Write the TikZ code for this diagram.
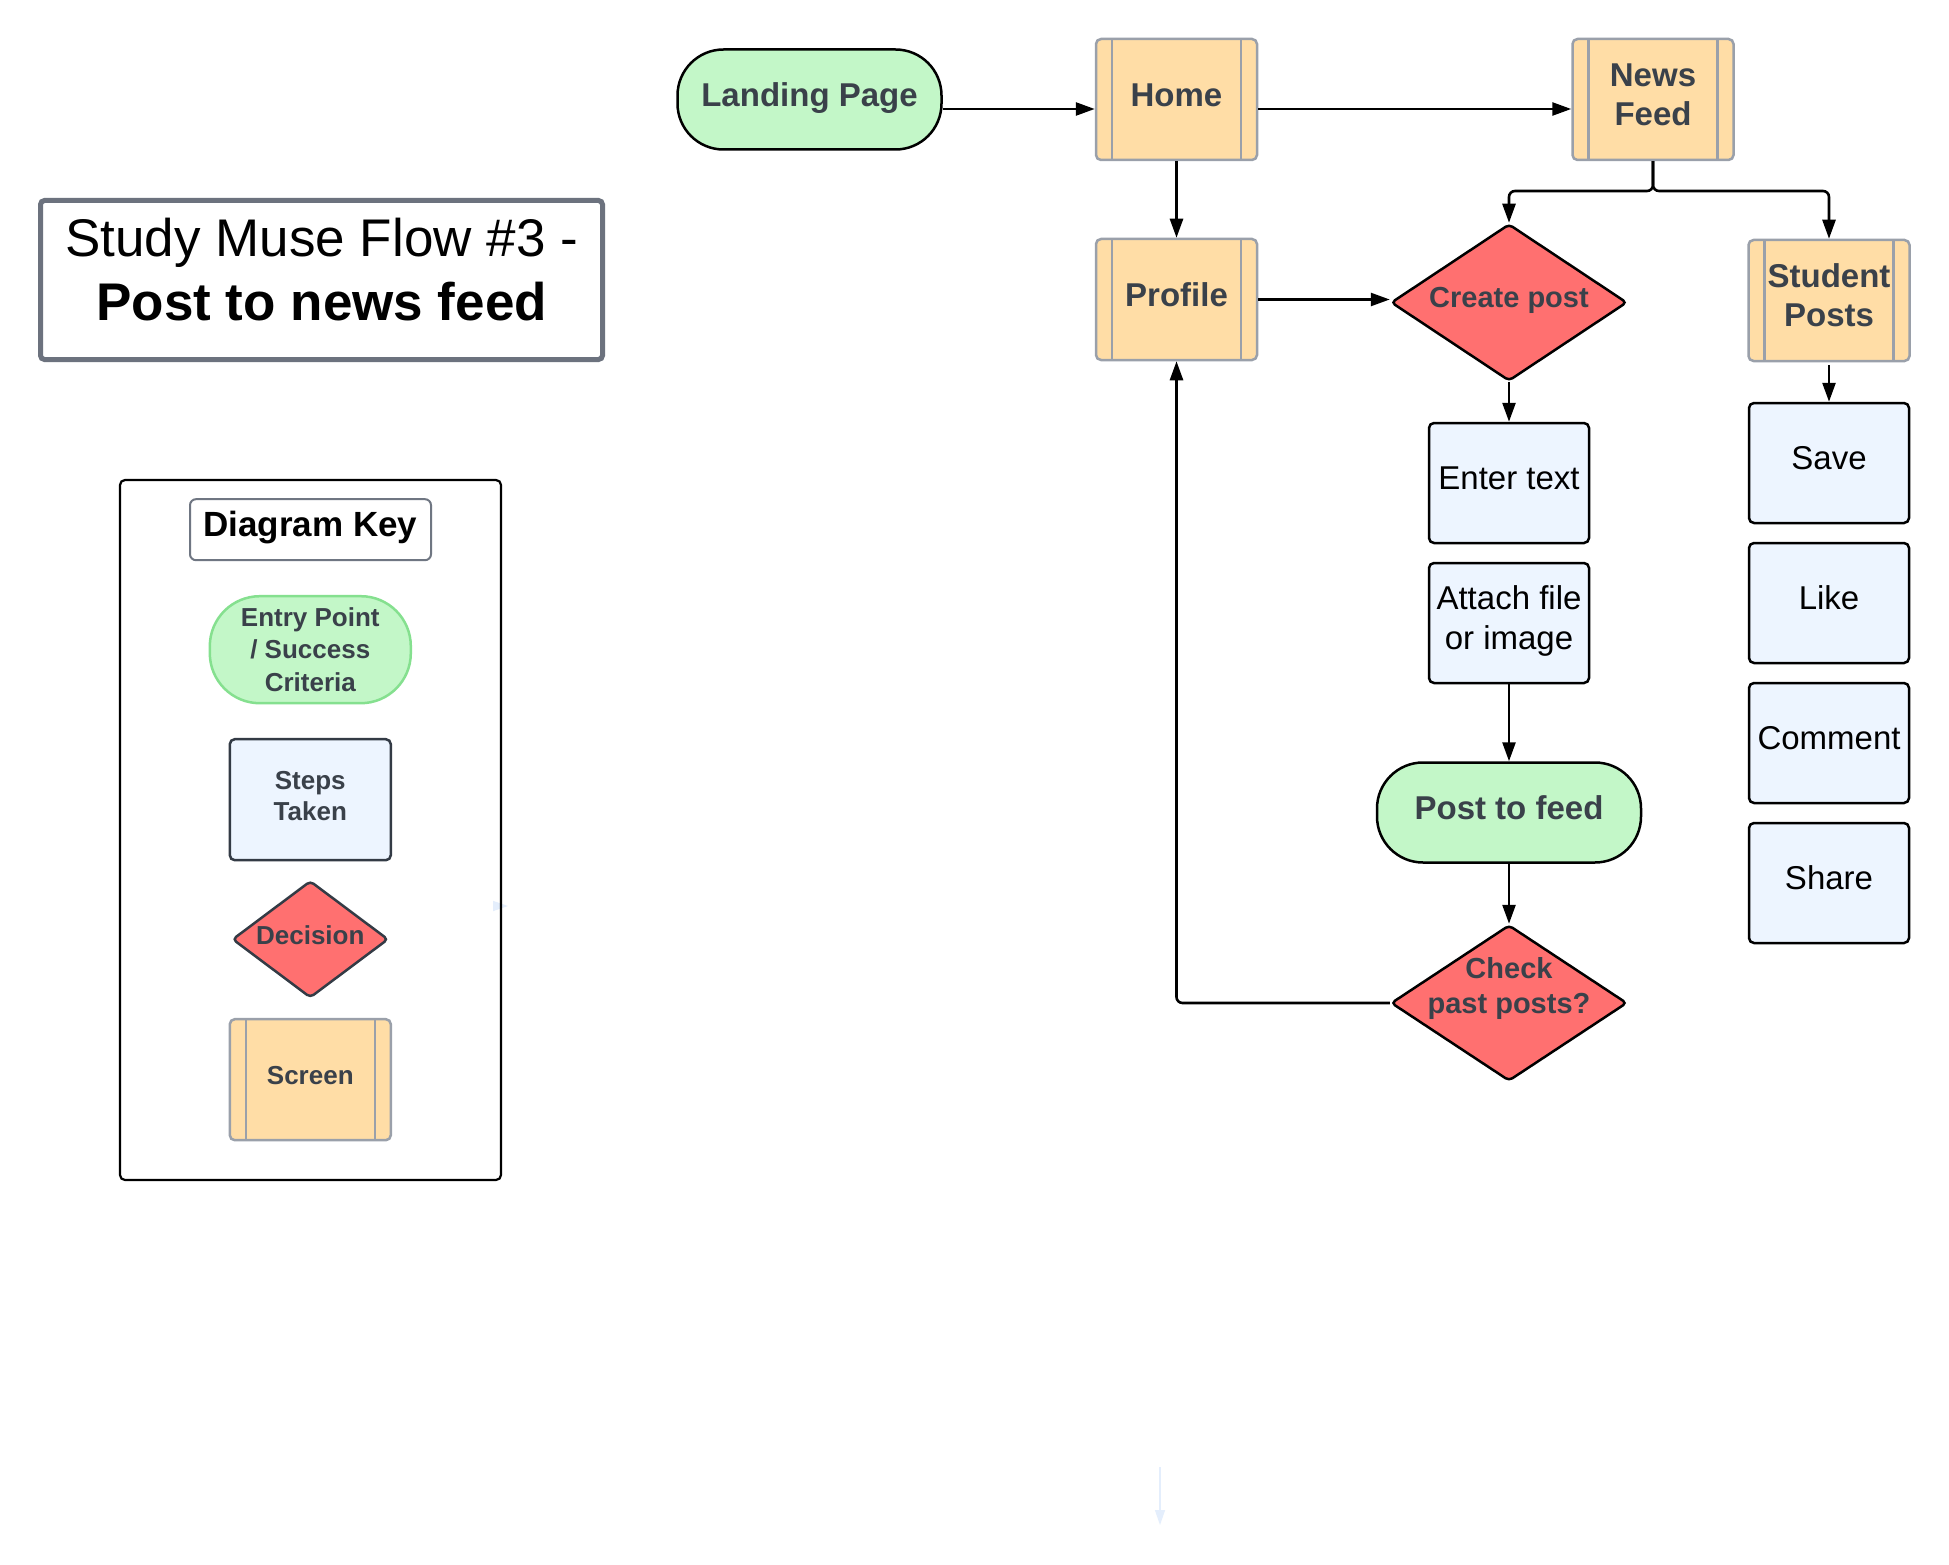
\documentclass[tikz,border=0pt]{standalone}
\usepackage{fontspec}
\setmainfont{Liberation Sans}
\usetikzlibrary{arrows.meta,shapes.geometric}
\newcommand\lstrut{\rule[-0.4em]{0pt}{1.2em}}
\definecolor{scrfill}{HTML}{FFDDA6}
\definecolor{scrline}{HTML}{9AA0AA}
\definecolor{decfill}{HTML}{FF7070}
\definecolor{entfill}{HTML}{C3F7C8}
\definecolor{stepfill}{HTML}{EDF5FF}
\definecolor{txtgray}{HTML}{3A414A}
\definecolor{titleline}{HTML}{6C727E}
\definecolor{keytline}{HTML}{6F7682}
\definecolor{keyentline}{HTML}{85E08F}
\definecolor{keystline}{HTML}{333B45}
\definecolor{faintblue}{HTML}{E4EEFC}
\begin{document}
\begin{tikzpicture}[x=1pt,y=-1pt,
  nodebase/.style={inner sep=0pt, align=center},
  screenbox/.style={nodebase, rectangle, rounded corners=5pt, fill=scrfill, draw=scrline, line width=2.5pt,
    minimum width=161pt, minimum height=121pt,
    path picture={\draw[scrline, line width=2.5pt]
      ([xshift=16pt]path picture bounding box.north west) -- ([xshift=16pt]path picture bounding box.south west)
      ([xshift=-16pt]path picture bounding box.north east) -- ([xshift=-16pt]path picture bounding box.south east);}},
  stepbox/.style={nodebase, rectangle, rounded corners=5pt, fill=stepfill, draw=black, line width=2.5pt,
    minimum width=160pt, minimum height=120pt},
  entrybox/.style={nodebase, rectangle, rounded corners=46pt, fill=entfill, draw=black, line width=2.5pt,
    minimum width=264pt, minimum height=100pt},
  decbox/.style={diamond, inner sep=0pt, fill=decfill, draw=black, line width=2.5pt, rounded corners=4pt,
    minimum width=236pt, minimum height=157pt},
  conn/.style={line width=2.6pt, draw=black, -{Triangle[length=19pt,width=13pt]}},
  faint/.style={draw=faintblue, line width=1.3pt, -{Triangle[length=15pt,width=10pt]}},
  fb33/.style={font=\fontsize{33}{39.6}\selectfont\bfseries, text=txtgray},
  fr33/.style={font=\fontsize{33}{39.6}\selectfont, text=black},
  fb29/.style={font=\fontsize{29}{34.8}\selectfont\bfseries, text=txtgray},
  fb26/.style={font=\fontsize{26}{31.2}\selectfont\bfseries, text=txtgray},
]
\useasboundingbox (0,0) rectangle (1949,1565);
\fill[white] (0,0) rectangle (1949,1565);

% ---------- title ----------
\node[draw=titleline, line width=5pt, rounded corners=4pt, minimum width=562pt, minimum height=159pt, inner sep=0pt] (title) at (321.5,280) {};
\node[nodebase, font=\fontsize{53}{63.6}\selectfont, text=black] (titlet) at (321.7,278)
  {\lstrut Study Muse Flow \#3 -\\\lstrut\textbf{Post to news feed}};

% ---------- key ----------
\coordinate (fk1) at (493,906);
\coordinate (fk2) at (508,906);
\draw[faint] (fk1) -- (fk2);
\node[draw=black, line width=2.2pt, rounded corners=5pt, minimum width=381pt, minimum height=700pt, inner sep=0pt] (key) at (310.5,830) {};
\node[nodebase, draw=keytline, line width=2pt, rounded corners=6pt, minimum width=241pt, minimum height=61pt,
  font=\fontsize{35}{42}\selectfont\bfseries, text=black] (keyt) at (310.5,529.7) {\lstrut Diagram Key};
\node[entrybox, draw=keyentline, rounded corners=50pt, minimum width=201pt, minimum height=107pt] (keyent) at (310.3,649.7) {};
\node[nodebase, font=\fontsize{26}{32.5}\selectfont\bfseries, text=txtgray] (keyentt) at (310.3,653.3)
  {\lstrut Entry Point\\\lstrut / Success\\\lstrut Criteria};
\node[stepbox, draw=keystline, minimum width=161pt, minimum height=121pt, fb26] (keystep) at (310.3,799.7)
  {\lstrut Steps\\\lstrut Taken};
\node[decbox, draw=keystline, minimum width=156pt, minimum height=117pt] (keydec) at (310.3,939.3) {};
\node[nodebase, fb26] (keydect) at (310.3,939.3) {\lstrut Decision};
\node[screenbox, fb26] (keyscr) at (310.3,1079.7) {\lstrut Screen};

% ---------- flow ----------
\node[entrybox, fb33] (lp) at (809.5,99.5) {\lstrut Landing Page};
\node[screenbox, fb33] (home) at (1176.5,99.5) {\lstrut Home};
\node[screenbox, fb33] (nf) at (1653,99.5) {\lstrut News\\\lstrut Feed};
\node[screenbox, fb33] (pr) at (1176.5,299.5) {\lstrut Profile};
\node[decbox] (cp) at (1509,302.5) {};
\node[nodebase, fb29] (cpt) at (1509,302) {\lstrut Create post};
\node[screenbox, fb33] (sp) at (1829,300.5) {\lstrut Student\\\lstrut Posts};
\node[stepbox, fr33] (et) at (1509,483) {\lstrut Enter text};
\node[stepbox, fr33] (af) at (1509,623) {\lstrut Attach file\\\lstrut or image};
\node[entrybox, fb33] (ptf) at (1509,812.5) {\lstrut Post to feed};
\node[decbox, minimum height=156pt] (chk) at (1509,1003) {};
\node[nodebase, fb29] (chkt) at (1509,990.5) {\lstrut Check\\\lstrut past posts?};
\node[stepbox, fr33] (save) at (1829,463) {\lstrut Save};
\node[stepbox, fr33] (like) at (1829,603) {\lstrut Like};
\node[stepbox, fr33] (comm) at (1829,743) {\lstrut Comment};
\node[stepbox, fr33] (share) at (1829,883) {\lstrut Share};

% ---------- connectors ----------
\draw[conn] ([yshift=-9.5pt]lp.east) -- ([yshift=-9.5pt]home.west);
\draw[conn] ([yshift=-9.5pt]home.east) -- ([yshift=-9.5pt]nf.west);
\draw[conn] (home.south) -- (pr.north);
\draw[conn] (pr.east) -- (pr.east -| cp.west);
\coordinate (split) at (1653,191);
\draw[conn, rounded corners=6pt] (nf.south) -- (split) -| (cp.north);
\draw[conn, rounded corners=6pt] (nf.south) -- (split) -| (sp.north);
\draw[conn] (cp.south) -- (et.north);
\draw[conn, shorten <=3pt] (sp.south) -- (save.north);
\draw[conn] (af.south) -- (ptf.north);
\draw[conn] (ptf.south) -- (chk.north);
\draw[conn, rounded corners=6pt] (chk.west) -| (pr.south);

% faint stray arrow
\coordinate (fz1) at (1160,1467);
\coordinate (fz2) at (1160,1525);
\draw[faint] (fz1) -- (fz2);
\end{tikzpicture}
\end{document}
